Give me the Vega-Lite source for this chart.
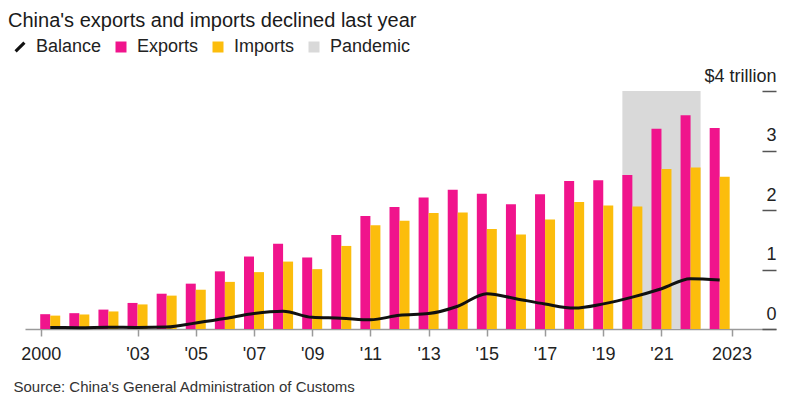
{
  "$schema": "https://vega.github.io/schema/vega-lite/v6.json",
  "width": 751,
  "height": 238,
  "autosize": "none",
  "padding": {"left": 25, "top": 91, "right": 23, "bottom": 84},
  "background": "white",
  "config": {
    "view": {"stroke": null},
    "font": "Liberation Sans",
    "axis": {"labelFont": "Liberation Sans", "titleFont": "Liberation Sans"},
    "legend": {"labelFont": "Liberation Sans"}
  },
  "title": {
    "text": "China's exports and imports declined last year",
    "anchor": "start",
    "frame": "group",
    "font": "Liberation Sans",
    "fontSize": 20,
    "fontWeight": "normal",
    "color": "#1a1a1a",
    "dx": -17,
    "offset": 7
  },
  "datasets": {
    "trade": [
      {"year": 2000, "exports": 0.249, "imports": 0.225, "balance": 0.024},
      {"year": 2001, "exports": 0.266, "imports": 0.244, "balance": 0.023},
      {"year": 2002, "exports": 0.326, "imports": 0.295, "balance": 0.030},
      {"year": 2003, "exports": 0.438, "imports": 0.413, "balance": 0.025},
      {"year": 2004, "exports": 0.593, "imports": 0.561, "balance": 0.032},
      {"year": 2005, "exports": 0.762, "imports": 0.660, "balance": 0.102},
      {"year": 2006, "exports": 0.969, "imports": 0.792, "balance": 0.177},
      {"year": 2007, "exports": 1.218, "imports": 0.956, "balance": 0.262},
      {"year": 2008, "exports": 1.431, "imports": 1.133, "balance": 0.298},
      {"year": 2009, "exports": 1.202, "imports": 1.006, "balance": 0.196},
      {"year": 2010, "exports": 1.578, "imports": 1.396, "balance": 0.182},
      {"year": 2011, "exports": 1.898, "imports": 1.743, "balance": 0.155},
      {"year": 2012, "exports": 2.049, "imports": 1.818, "balance": 0.231},
      {"year": 2013, "exports": 2.209, "imports": 1.950, "balance": 0.259},
      {"year": 2014, "exports": 2.342, "imports": 1.959, "balance": 0.383},
      {"year": 2015, "exports": 2.273, "imports": 1.680, "balance": 0.594},
      {"year": 2016, "exports": 2.098, "imports": 1.588, "balance": 0.510},
      {"year": 2017, "exports": 2.263, "imports": 1.842, "balance": 0.420},
      {"year": 2018, "exports": 2.487, "imports": 2.136, "balance": 0.351},
      {"year": 2019, "exports": 2.499, "imports": 2.077, "balance": 0.422},
      {"year": 2020, "exports": 2.590, "imports": 2.057, "balance": 0.535},
      {"year": 2021, "exports": 3.364, "imports": 2.687, "balance": 0.677},
      {"year": 2022, "exports": 3.594, "imports": 2.716, "balance": 0.845},
      {"year": 2023, "exports": 3.380, "imports": 2.557, "balance": 0.823}
    ],
    "periods": [
      {"period": "Pandemic", "start": 2020, "end": 2022}
    ]
  },
  "layer": [
    {
      "data": {"name": "periods"},
      "mark": {"type": "rect", "xOffset": -10, "x2Offset": 10},
      "encoding": {
        "x": {
          "field": "start",
          "type": "quantitative",
          "scale": {"domain": [1999.305, 2024.763], "nice": false, "zero": false},
          "axis": {
            "values": [1999.678, 2003, 2005, 2007, 2009, 2011, 2013, 2015, 2017, 2019, 2021, 2023.407],
            "labelExpr": "datum.value < 2000 ? '2000' : datum.value > 2022 ? '2023' : \"'\" + substring(toString(datum.value), 2)",
            "grid": false,
            "domainColor": "#9a9a9a",
            "domainWidth": 1.5,
            "tickColor": "#9a9a9a",
            "tickWidth": 1.5,
            "tickSize": 7,
            "labelFontSize": 18,
            "labelColor": "#222222",
            "labelPadding": 9,
            "labelFlush": false,
            "labelOverlap": false,
            "title": "Source: China's General Administration of Customs",
            "titleFontSize": 15,
            "titleFontWeight": "normal",
            "titleColor": "#333333",
            "titleAlign": "left",
            "titleAnchor": "start",
            "titleBaseline": "alphabetic",
            "titleX": -12,
            "titleY": 62
          }
        },
        "x2": {"field": "end"},
        "y": {
          "datum": 4,
          "type": "quantitative",
          "scale": {"domain": [0, 4], "nice": false, "zero": true},
          "axis": {
            "orient": "right",
            "values": [0, 1, 2, 3, 4],
            "domain": false,
            "grid": false,
            "ticks": true,
            "tickSize": -14,
            "tickWidth": 1.5,
            "tickColor": "#555555",
            "labelAlign": "right",
            "labelBaseline": "alphabetic",
            "labelPadding": 14,
            "labelOffset": -10,
            "labelFontSize": 18,
            "labelColor": "#222222",
            "labelExpr": "datum.value == 4 ? '$4 trillion' : toString(datum.value)",
            "title": null
          }
        },
        "y2": {"datum": 0},
        "color": {
          "datum": "Pandemic",
          "type": "nominal",
          "scale": {
            "domain": ["Balance", "Exports", "Imports", "Pandemic"],
            "range": ["#111111", "#f0148c", "#fcbd0c", "#d9d9d9"]
          },
          "legend": {
            "orient": "none",
            "legendX": -14,
            "legendY": -53,
            "direction": "horizontal",
            "title": null,
            "padding": 0,
            "symbolType": "square",
            "symbolSize": 121,
            "symbolStrokeWidth": 0,
            "symbolOpacity": 1,
            "labelFontSize": 18,
            "labelColor": "#222222",
            "labelOffset": 7,
            "columnPadding": 10,
            "encode": {
              "symbols": {
                "update": {
                  "shape": {"signal": "datum.value === 'Balance' ? 'M-1,0.6L0.6,-1L1,-0.6L-0.6,1Z' : 'square'"},
                  "fill": {"scale": "color", "field": "value"},
                  "strokeWidth": {"value": 0},
                  "opacity": {"value": 1}
                }
              }
            }
          }
        }
      }
    },
    {
      "data": {"name": "trade"},
      "mark": {"type": "bar", "width": 10, "xOffset": -5},
      "encoding": {
        "x": {"field": "year", "type": "quantitative"},
        "y": {"field": "exports", "type": "quantitative"},
        "color": {"datum": "Exports", "type": "nominal"}
      }
    },
    {
      "data": {"name": "trade"},
      "mark": {"type": "bar", "width": 10, "xOffset": 5},
      "encoding": {
        "x": {"field": "year", "type": "quantitative"},
        "y": {"field": "imports", "type": "quantitative"},
        "color": {"datum": "Imports", "type": "nominal"}
      }
    },
    {
      "data": {"name": "trade"},
      "mark": {"type": "line", "strokeWidth": 3, "interpolate": "monotone"},
      "encoding": {
        "x": {"field": "year", "type": "quantitative"},
        "y": {"field": "balance", "type": "quantitative"},
        "color": {"datum": "Balance", "type": "nominal"}
      }
    }
  ]
}
